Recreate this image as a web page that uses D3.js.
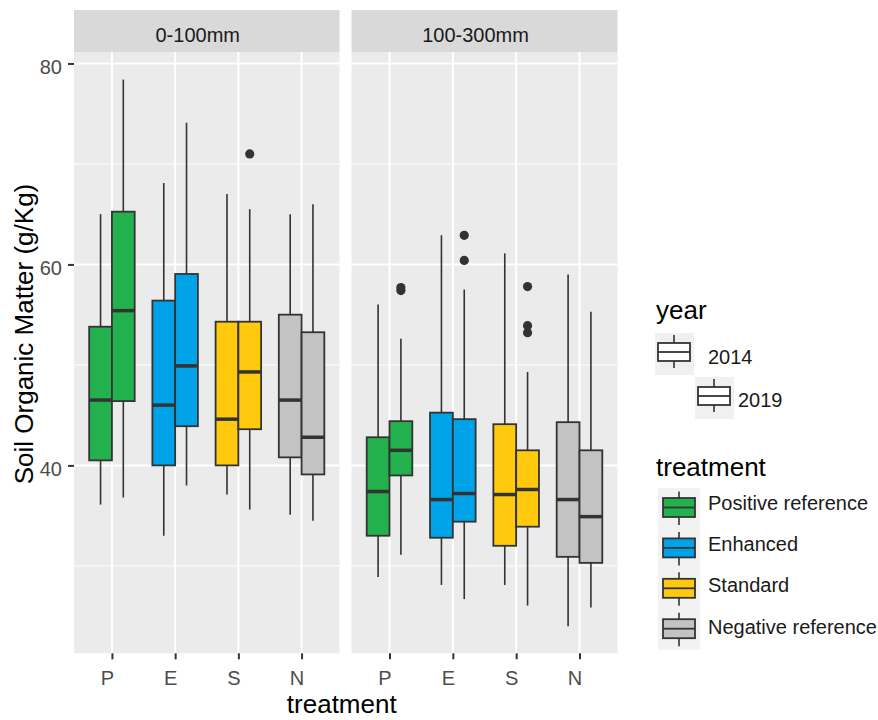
<!DOCTYPE html>
<html>
<head>
<meta charset="utf-8">
<script src="https://cdn.jsdelivr.net/npm/d3@7"></script>
<style>
  html, body { margin: 0; padding: 0; background: #ffffff; }
  svg { display: block; }
  text { font-family: "Liberation Sans", Arial, sans-serif; }
</style>
</head>
<body>
<svg id="chart" width="878" height="720"></svg>
<script>
// ---------------- data ----------------
const depths = ["0-100mm", "100-300mm"];
const treatments = ["P", "E", "S", "N"];
const treatmentNames = ["Positive reference", "Enhanced", "Standard", "Negative reference"];
const treatmentColors = ["#22B14C", "#00A2E8", "#FFC90E", "#C3C3C3"];
const years = ["2014", "2019"];
const yTicks = [40, 60, 80];
const yMinor = [30, 50, 70];

const boxDepth = ["0-100mm","0-100mm","0-100mm","0-100mm","0-100mm","0-100mm","0-100mm","0-100mm",
                  "100-300mm","100-300mm","100-300mm","100-300mm","100-300mm","100-300mm","100-300mm","100-300mm"];
const boxTreatment = ["P","P","E","E","S","S","N","N","P","P","E","E","S","S","N","N"];
const boxYear = ["2014","2019","2014","2019","2014","2019","2014","2019",
                 "2014","2019","2014","2019","2014","2019","2014","2019"];
const lowerWhisker = [36.1, 36.8, 33.0, 38.0, 37.1, 35.6, 35.1, 34.5, 28.9, 31.1, 28.1, 26.7, 28.1, 26.05, 24.0, 25.85];
const q1           = [40.5, 46.4, 40.0, 43.9, 40.0, 43.6, 40.8, 39.1, 33.0, 39.0, 32.8, 34.4, 32.0, 33.9, 30.9, 30.3];
const median       = [46.5, 55.4, 46.0, 49.9, 44.6, 49.3, 46.5, 42.8, 37.4, 41.5, 36.6, 37.2, 37.1, 37.6, 36.6, 34.9];
const q3           = [53.8, 65.25, 56.4, 59.05, 54.3, 54.3, 55.0, 53.25, 42.8, 44.4, 45.25, 44.6, 44.1, 41.5, 44.3, 41.5];
const upperWhisker = [65.0, 78.4, 68.1, 74.1, 67.0, 65.5, 65.0, 66.0, 56.0, 52.6, 62.9, 57.5, 61.1, 49.3, 59.0, 55.3];

const outlierDepth = ["0-100mm","100-300mm","100-300mm","100-300mm","100-300mm","100-300mm","100-300mm","100-300mm"];
const outlierTreatment = ["S","P","P","E","E","S","S","S"];
const outlierYear = ["2019","2019","2019","2019","2019","2019","2019","2019"];
const outlierValue = [71.0, 57.4, 57.7, 62.9, 60.4, 57.8, 53.9, 53.2];

// ---------------- layout ----------------
const svg = d3.select("#chart");
const font = '"Liberation Sans", Arial, sans-serif';
const panelTop = 52, panelBottom = 653.3;
const stripTop = 10;
const panels = [[74, 339.5], [351.5, 617.5]];

const y = d3.scaleLinear().domain([21.3, 81.14]).range([panelBottom, panelTop]);
const colorScale = d3.scaleOrdinal().domain(treatments).range(treatmentColors);

depths.forEach((depth, pi) => {
  const [x0, x1] = panels[pi];
  const x = d3.scalePoint().domain(treatments).range([x0, x1]).padding(0.6);
  const step = x.step();
  const boxW = step * 0.36;
  const yearOffset = d3.scaleBand().domain(years).range([-boxW, boxW]);

  const g = svg.append("g");
  // panel background
  g.append("rect").attr("x", x0).attr("y", panelTop).attr("width", x1 - x0)
    .attr("height", panelBottom - panelTop).attr("fill", "#EBEBEB");
  // minor gridlines
  g.selectAll(".minor").data(yMinor).enter().append("line")
    .attr("x1", x0).attr("x2", x1).attr("y1", d => y(d)).attr("y2", d => y(d))
    .attr("stroke", "#ffffff").attr("stroke-width", 1);
  // major gridlines
  g.selectAll(".major").data(yTicks).enter().append("line")
    .attr("x1", x0).attr("x2", x1).attr("y1", d => y(d)).attr("y2", d => y(d))
    .attr("stroke", "#ffffff").attr("stroke-width", 2);
  g.selectAll(".vmajor").data(treatments).enter().append("line")
    .attr("x1", d => x(d)).attr("x2", d => x(d)).attr("y1", panelTop).attr("y2", panelBottom)
    .attr("stroke", "#ffffff").attr("stroke-width", 2);

  // strip
  g.append("rect").attr("x", x0).attr("y", stripTop).attr("width", x1 - x0)
    .attr("height", panelTop - stripTop).attr("fill", "#D9D9D9");
  g.append("text").attr("x", (x0 + x1) / 2 - 9).attr("y", 41.5)
    .attr("text-anchor", "middle").attr("font-size", 20).attr("fill", "#1A1A1A").text(depth);

  // x axis
  const xa = g.append("g").attr("transform", `translate(0,${panelBottom})`)
    .call(d3.axisBottom(x).tickSize(6).tickPadding(0));
  xa.select(".domain").remove();
  xa.selectAll(".tick line").attr("stroke", "#333333").attr("stroke-width", 2);
  xa.selectAll(".tick text").attr("font-size", 20).attr("font-family", font).attr("fill", "#4D4D4D")
    .attr("dy", null).attr("y", 31.5).attr("x", -5);

  // boxes
  const idx = d3.range(boxDepth.length).filter(i => boxDepth[i] === depth);
  idx.forEach(i => {
    const left = x(boxTreatment[i]) + yearOffset(boxYear[i]);
    const w = yearOffset.bandwidth();
    const cx = left + w / 2;
    g.append("line").attr("x1", cx).attr("x2", cx).attr("y1", y(upperWhisker[i])).attr("y2", y(q3[i]))
      .attr("stroke", "#333333").attr("stroke-width", 1.6);
    g.append("line").attr("x1", cx).attr("x2", cx).attr("y1", y(q1[i])).attr("y2", y(lowerWhisker[i]))
      .attr("stroke", "#333333").attr("stroke-width", 1.6);
    g.append("rect").attr("x", left).attr("y", y(q3[i])).attr("width", w)
      .attr("height", y(q1[i]) - y(q3[i])).attr("fill", colorScale(boxTreatment[i]))
      .attr("stroke", "#333333").attr("stroke-width", 1.8);
    g.append("line").attr("x1", left).attr("x2", left + w).attr("y1", y(median[i])).attr("y2", y(median[i]))
      .attr("stroke", "#333333").attr("stroke-width", 3.5);
  });

  // outliers
  const oidx = d3.range(outlierDepth.length).filter(i => outlierDepth[i] === depth);
  g.selectAll(".out").data(oidx).enter().append("circle")
    .attr("cx", i => x(outlierTreatment[i]) + yearOffset(outlierYear[i]) + yearOffset.bandwidth() / 2)
    .attr("cy", i => y(outlierValue[i])).attr("r", 4.6).attr("fill", "#333333");
});

// y axis (left panel only)
const ya = svg.append("g").attr("transform", `translate(${panels[0][0]},0)`)
  .call(d3.axisLeft(y).tickValues(yTicks).tickSize(6).tickPadding(6));
ya.select(".domain").remove();
ya.selectAll(".tick line").attr("stroke", "#333333").attr("stroke-width", 2);
ya.selectAll(".tick text").attr("font-size", 20).attr("font-family", font).attr("fill", "#4D4D4D")
  .attr("dy", "0.52em").attr("x", -12);

// axis titles
svg.append("text").attr("x", (panels[0][0] + panels[1][1]) / 2 - 4).attr("y", 713)
  .attr("text-anchor", "middle").attr("font-size", 26).attr("fill", "#000").text("treatment");
svg.append("text").attr("transform", `translate(33,334) rotate(-90)`)
  .attr("text-anchor", "middle").attr("font-size", 26).attr("fill", "#000").text("Soil Organic Matter (g/Kg)");

// ---------------- legends ----------------
const leg = svg.append("g");
leg.append("text").attr("x", 656).attr("y", 319).attr("font-size", 26).text("year");
years.forEach((yr, i) => {
  const dx = i * 40, dy = i * 44;
  leg.append("rect").attr("x", 655 + dx).attr("y", 333 + dy).attr("width", 39).attr("height", 42).attr("fill", "#F0F0F0");
  leg.append("line").attr("x1", 674 + dx).attr("x2", 674 + dx).attr("y1", 335 + dy).attr("y2", 368 + dy)
    .attr("stroke", "#333333").attr("stroke-width", 1.6);
  leg.append("rect").attr("x", 658 + dx).attr("y", 343 + dy).attr("width", 32).attr("height", 18)
    .attr("fill", "#ffffff").attr("stroke", "#333333").attr("stroke-width", 1.8);
  leg.append("line").attr("x1", 658 + dx).attr("x2", 690 + dx).attr("y1", 352 + dy).attr("y2", 352 + dy)
    .attr("stroke", "#333333").attr("stroke-width", 1.8);
  leg.append("text").attr("x", 708 + dx * 0.75).attr("y", 364 + dy * 0.97).attr("font-size", 20).attr("fill", "#1A1A1A").text(yr);
});

leg.append("text").attr("x", 656).attr("y", 476).attr("font-size", 26).text("treatment");
treatments.forEach((t, i) => {
  const dy = i * 40.4;
  leg.append("rect").attr("x", 658).attr("y", 488 + dy).attr("width", 42).attr("height", 40.4).attr("fill", "#F2F2F2");
  leg.append("line").attr("x1", 679).attr("x2", 679).attr("y1", 491.5 + dy).attr("y2", 525 + dy)
    .attr("stroke", "#333333").attr("stroke-width", 1.6);
  leg.append("rect").attr("x", 663).attr("y", 498 + dy).attr("width", 32).attr("height", 19)
    .attr("fill", colorScale(t)).attr("stroke", "#333333").attr("stroke-width", 1.8);
  leg.append("line").attr("x1", 663).attr("x2", 695).attr("y1", 507.5 + dy).attr("y2", 507.5 + dy)
    .attr("stroke", "#333333").attr("stroke-width", 1.8);
  leg.append("text").attr("x", 708).attr("y", 510 + dy * 1.02).attr("font-size", 20).attr("fill", "#1A1A1A")
    .text(treatmentNames[i]);
});
</script>
</body>
</html>
